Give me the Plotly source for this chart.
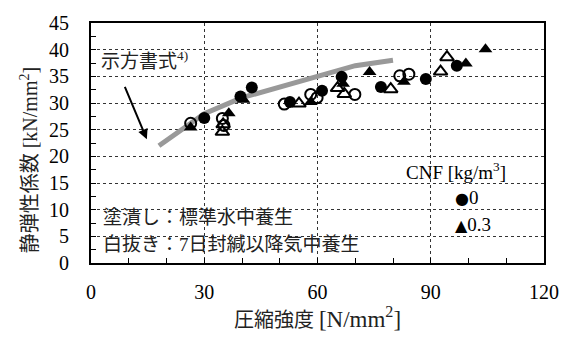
import plotly.graph_objects as go

# JSCE specification curve (示方書式)
spec_fc = [18, 24, 30, 40, 50, 60, 70, 80]
spec_e = [22, 25, 28, 31, 33, 35, 37, 38]

# CNF 0, standard water curing (filled circle)
c0_water_x = [30.0, 39.6, 42.6, 52.7, 61.2, 66.4, 76.8, 88.7, 96.9]
c0_water_y = [27.2, 31.2, 32.9, 30.2, 32.3, 34.9, 33.0, 34.5, 37.0]
# CNF 0.3, standard water curing (filled triangle)
c3_water_x = [26.4, 36.5, 40.4, 58.2, 66.8, 73.8, 82.9, 99.3, 104.5]
c3_water_y = [25.4, 28.1, 30.6, 30.2, 33.6, 35.8, 34.0, 37.4, 40.1]
# CNF 0, sealed 7 days then air curing (open circle)
c0_air_x = [26.4, 34.8, 35.2, 51.2, 58.2, 59.9, 69.9, 81.8, 84.2]
c0_air_y = [26.2, 27.1, 25.8, 29.8, 31.6, 31.0, 31.6, 35.1, 35.4]
# CNF 0.3, sealed 7 days then air curing (open triangle)
c3_air_x = [34.8, 35.0, 55.1, 65.3, 67.1, 79.4, 92.6, 94.3]
c3_air_y = [24.6, 26.0, 29.9, 32.8, 31.7, 32.6, 35.9, 38.6]

x_ticks = [0, 30, 60, 90, 120]
y_ticks = [0, 5, 10, 15, 20, 25, 30, 35, 40, 45]

SERIF = "'Liberation Serif', 'Times New Roman', 'DejaVu Serif', serif"
CJK = "'Liberation Serif', 'Noto Sans CJK JP', serif"

fig = go.Figure()
fig.add_trace(go.Scatter(x=spec_fc, y=spec_e, mode="lines",
                         line=dict(color="#999999", width=5), showlegend=False))
fig.add_trace(go.Scatter(x=c0_air_x, y=c0_air_y, mode="markers",
                         marker=dict(symbol="circle-open", size=11, color="black",
                                     line=dict(width=2, color="black")), showlegend=False))
fig.add_trace(go.Scatter(x=c3_air_x, y=c3_air_y, mode="markers",
                         marker=dict(symbol="triangle-up-open", size=12, color="black",
                                     line=dict(width=2, color="black")), showlegend=False))
fig.add_trace(go.Scatter(x=c0_water_x, y=c0_water_y, mode="markers",
                         marker=dict(symbol="circle", size=12, color="black"), showlegend=False))
fig.add_trace(go.Scatter(x=c3_water_x, y=c3_water_y, mode="markers",
                         marker=dict(symbol="triangle-up", size=12, color="black"), showlegend=False))

grid = dict(showgrid=True, gridcolor="#333333", griddash="dot", gridwidth=1)
fig.update_xaxes(range=[0, 120], tickvals=x_ticks, ticks="inside", ticklen=5,
                 tickcolor="black", minor=dict(dtick=10, ticks="inside", ticklen=5,
                                               tickcolor="black", showgrid=False),
                 showline=True, linecolor="black", linewidth=2, mirror=True,
                 zeroline=False, ticklabelstandoff=10,
                 tickfont=dict(family=SERIF, size=20, color="black"),
                 title=dict(text="圧縮強度 <span style='font-size:23px'>[N/mm<sup>2</sup>]</span>",
                            standoff=9, font=dict(family=CJK, size=20, color="#222")), **grid)
fig.update_yaxes(range=[0, 45], tickvals=y_ticks, ticks="inside", ticklen=5,
                 tickcolor="black", minor=dict(dtick=2.5, ticks="inside", ticklen=5,
                                               tickcolor="black", showgrid=False),
                 showline=True, linecolor="black", linewidth=2, mirror=True,
                 zeroline=False, ticklabelstandoff=16,
                 tickfont=dict(family=SERIF, size=20, color="black"), **grid)

fig.add_annotation(x=-0.138, y=0.43, xref="paper", yref="paper", xanchor="center", yanchor="middle",
                   textangle=-90, showarrow=False,
                   text="静弾性係数 [kN/mm<sup>2</sup>]",
                   font=dict(family=CJK, size=20, color="#222"))

fig.add_annotation(x=14.8, y=23.2, ax=8.8, ay=33.3, xref="x", yref="y", axref="x", ayref="y",
                   showarrow=True, arrowhead=2, arrowsize=1, arrowwidth=2, arrowcolor="black", text="")
ann_font = dict(family=CJK, size=19, color="#222")
fig.add_annotation(x=0.018, y=0.844, xref="paper", yref="paper", xanchor="left", yanchor="middle",
                   text="示方書式<sup>4)</sup>", showarrow=False, font=ann_font)
fig.add_annotation(x=0.022, y=0.189, xref="paper", yref="paper", xanchor="left", yanchor="middle",
                   text="塗潰し：標準水中養生", showarrow=False, font=ann_font)
fig.add_annotation(x=0.022, y=0.078, xref="paper", yref="paper", xanchor="left", yanchor="middle",
                   text="白抜き：7日封緘以降気中養生", showarrow=False, font=ann_font)

leg_font = dict(family=SERIF, size=19, color="black")
fig.add_annotation(x=0.69, y=0.385, xref="paper", yref="paper", xanchor="left", yanchor="middle",
                   text="CNF [kg/m<sup>3</sup>]", showarrow=False, font=leg_font)
fig.add_annotation(x=0.80, y=0.275, xref="paper", yref="paper", xanchor="left", yanchor="middle",
                   text="<span style='font-family:DejaVu Sans;font-size:16px'>●</span>0",
                   showarrow=False, font=leg_font)
fig.add_annotation(x=0.80, y=0.16, xref="paper", yref="paper", xanchor="left", yanchor="middle",
                   text="<span style='font-family:DejaVu Sans;font-size:16px'>▲</span>0.3",
                   showarrow=False, font=leg_font)

fig.update_layout(width=571, height=338, margin=dict(l=91, r=18, t=20, b=74),
                  plot_bgcolor="white", paper_bgcolor="white", showlegend=False)
fig.write_html("out.html")
